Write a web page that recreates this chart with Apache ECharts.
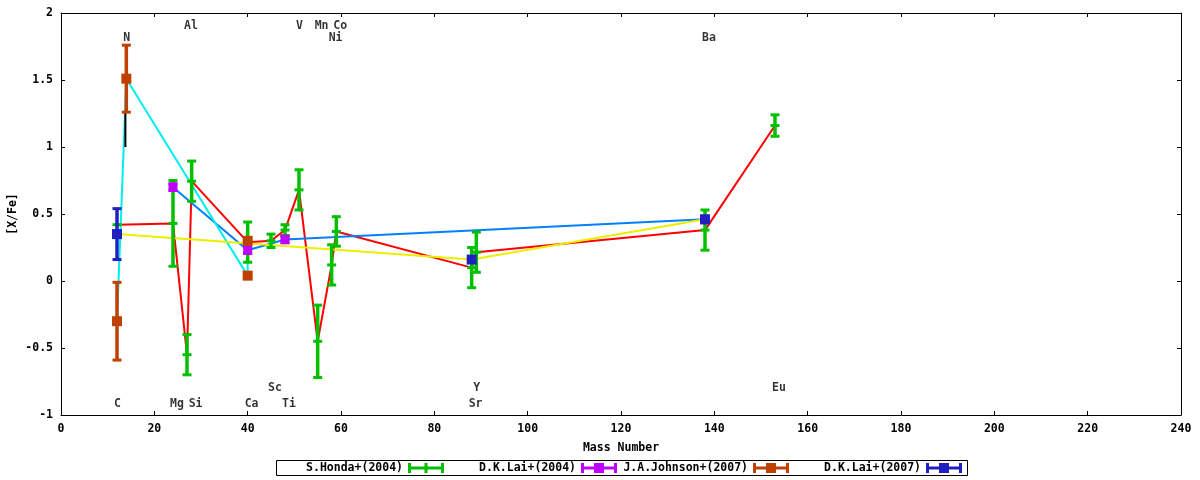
<!DOCTYPE html>
<html>
<head>
<meta charset="utf-8">
<script src="https://cdn.jsdelivr.net/npm/echarts@6/dist/echarts.min.js"></script>
<style>
  html, body { margin: 0; padding: 0; background: #fff; }
  #chart { width: 1200px; height: 480px; }
</style>
</head>
<body>
<div id="chart"></div>
<script>
// S.Honda+(2004)
var hondaMass = [12, 24, 27, 28, 40, 45, 48, 51, 55, 58, 59, 88, 89, 138, 153];
var hondaVal  = [0.42, 0.43, -0.55, 0.745, 0.29, 0.30, 0.38, 0.68, -0.45, 0.12, 0.37, 0.10, 0.215, 0.38, 1.16];
var hondaErr  = [0, 0.32, 0.15, 0.15, 0.15, 0.05, 0.04, 0.15, 0.27, 0.15, 0.11, 0.15, 0.15, 0.15, 0.08];

// D.K.Lai+(2004)
var lai04Mass = [24, 40, 48, 138];
var lai04Val  = [0.70, 0.23, 0.31, 0.46];
var lai04Err  = [0.025, 0.025, 0.025, 0.025];

// J.A.Johnson+(2007)
var johnMass = [12, 14, 40, 40];
var johnVal  = [-0.30, 1.51, 0.04, 0.30];
var johnErr  = [0.29, 0.25, 0, 0];

// D.K.Lai+(2007)
var lai07Mass = [12, 88, 138];
var lai07Val  = [0.35, 0.16, 0.46];
var lai07Err  = [0.19, 0, 0];

// short black limit mark near N
var limitMass = [13.8, 13.8];
var limitVal  = [1.26, 1.0];

// element labels
var elemNames  = ['Al', 'V', 'Mn', 'Co', 'N', 'Ni', 'Ba', 'Sc', 'Y', 'Eu', 'C', 'Mg', 'Si', 'Ca', 'Ti', 'Sr'];
var elemMass   = [27, 51, 55, 59, 14, 58, 138, 45, 89, 153, 12, 24, 28, 40, 48, 88];
var elemLabelY = [1.9, 1.9, 1.9, 1.9, 1.81, 1.81, 1.81, -0.8, -0.8, -0.8, -0.92, -0.92, -0.92, -0.92, -0.92, -0.92];

var legendNames = ['S.Honda+(2004)', 'D.K.Lai+(2004)', 'J.A.Johnson+(2007)', 'D.K.Lai+(2007)'];

var FONT = 'DejaVu Sans Mono';
var FS = 11.5;

function zip(a, b, c) {
  return a.map(function (v, i) { return c ? [v, b[i], c[i]] : [v, b[i]]; });
}

// errorbar drawn the gnuplot way: bar, two caps, centre mark
function errorBar(color, centre) {
  return function (params, api) {
    var x = api.value(0), y = api.value(1), e = api.value(2);
    var c = api.coord([x, y]);
    var kids = [];
    if (e > 0) {
      var hi = api.coord([x, y + e]), lo = api.coord([x, y - e]);
      kids.push({ type: 'rect', shape: { x: c[0] - 1.75, y: hi[1], width: 3.5, height: lo[1] - hi[1] }, style: { fill: color } });
      kids.push({ type: 'rect', shape: { x: c[0] - 4.5, y: hi[1] - 1.5, width: 9, height: 3 }, style: { fill: color } });
      kids.push({ type: 'rect', shape: { x: c[0] - 4.5, y: lo[1] - 1.5, width: 9, height: 3 }, style: { fill: color } });
    }
    if (centre === 'tick') {
      kids.push({ type: 'rect', shape: { x: c[0] - 4.5, y: c[1] - 1.5, width: 9, height: 3 }, style: { fill: color } });
    } else {
      var s = centre === 'small' ? 9 : 10;
      kids.push({ type: 'rect', shape: { x: c[0] - s / 2, y: c[1] - s / 2, width: s, height: s }, style: { fill: color } });
    }
    return { type: 'group', children: kids };
  };
}

var iconTick = 'path://M0,0H3V10H0Z M3,3.5H33V6.5H3Z M33,0H36V10H33Z M16.5,0H19.5V10H16.5Z';
var iconBox = 'path://M0,0H3V10H0Z M3,3.5H33V6.5H3Z M33,0H36V10H33Z M13,0H23V10H13Z';

function lineSeries(mass, val, color) {
  return {
    type: 'line', data: zip(mass, val), showSymbol: false, silent: true, z: 2,
    lineStyle: { color: color, width: 2 }, itemStyle: { color: color }
  };
}

function barSeries(name, mass, val, err, color, centre) {
  return {
    type: 'custom', name: name, data: zip(mass, val, err), z: 3,
    encode: { x: 0, y: 1 }, itemStyle: { color: color },
    renderItem: errorBar(color, centre)
  };
}

var axisText = { color: '#000', fontFamily: FONT, fontSize: FS, fontWeight: 'bold' };

// one legend per entry so every text ends flush against its sample, like gnuplot's key
var legendRight = [756, 583, 411, 238];
var legends = legendNames.map(function (n, i) {
  return {
    data: [{ name: n, icon: i === 0 ? iconTick : iconBox }],
    right: legendRight[i], top: 462, align: 'right', selectedMode: false,
    itemWidth: 36, itemHeight: 10, padding: 0,
    textStyle: axisText
  };
});

var chart = echarts.init(document.getElementById('chart'));
chart.setOption({
  animation: false,
  backgroundColor: '#fff',
  grid: { left: 61, right: 19, top: 13, bottom: 65, outerBoundsMode: 'none' },
  xAxis: [{
    type: 'value', min: 0, max: 240, interval: 20,
    name: 'Mass Number', nameLocation: 'middle', nameGap: 27, nameTextStyle: axisText,
    axisLine: { show: true, onZero: false, lineStyle: { color: '#000' } },
    axisTick: { inside: true, length: 4, lineStyle: { color: '#000' } },
    axisLabel: Object.assign({ margin: 8 }, axisText),
    splitLine: { show: false }
  }, {
    type: 'value', min: 0, max: 240, interval: 20, position: 'top',
    axisLine: { show: true, onZero: false, lineStyle: { color: '#000' } },
    axisTick: { inside: true, length: 4, lineStyle: { color: '#000' } },
    axisLabel: { show: false }, splitLine: { show: false }
  }],
  yAxis: [{
    type: 'value', min: -1, max: 2, interval: 0.5,
    name: '[X/Fe]', nameLocation: 'middle', nameGap: 42, nameRotate: 90, nameTextStyle: axisText,
    nameMoveOverlap: false,
    axisLine: { show: true, onZero: false, lineStyle: { color: '#000' } },
    axisTick: { inside: true, length: 4, lineStyle: { color: '#000' } },
    axisLabel: Object.assign({ margin: 8 }, axisText),
    splitLine: { show: false }
  }, {
    type: 'value', min: -1, max: 2, interval: 0.5, position: 'right',
    axisLine: { show: true, onZero: false, lineStyle: { color: '#000' } },
    axisTick: { inside: true, length: 4, lineStyle: { color: '#000' } },
    axisLabel: { show: false }, splitLine: { show: false }
  }],
  legend: legends,
  graphic: [{
    type: 'rect', shape: { x: 276.5, y: 460.5, width: 691, height: 15 },
    style: { fill: 'none', stroke: '#000', lineWidth: 1 }, silent: true
  }],
  series: [
    lineSeries(hondaMass, hondaVal, '#ff0000'),
    lineSeries(lai04Mass, lai04Val, '#0080ff'),
    lineSeries(johnMass, johnVal, '#00eeee'),
    lineSeries(lai07Mass, lai07Val, '#eeee00'),
    {
      type: 'line', data: zip(limitMass, limitVal), showSymbol: false, silent: true, z: 2,
      lineStyle: { color: '#000', width: 2 }
    },
    barSeries(legendNames[0], hondaMass, hondaVal, hondaErr, '#00c000', 'tick'),
    barSeries(legendNames[1], lai04Mass, lai04Val, lai04Err, '#c000ff', 'small'),
    barSeries(legendNames[2], johnMass, johnVal, johnErr, '#c04000', 'box'),
    barSeries(legendNames[3], lai07Mass, lai07Val, lai07Err, '#2020c0', 'box'),
    {
      type: 'scatter', silent: true, symbolSize: 0, z: 4,
      data: elemNames.map(function (n, i) { return { name: n, value: [elemMass[i], elemLabelY[i]] }; }),
      label: {
        show: true, position: [-3, 0], align: 'left', verticalAlign: 'middle',
        formatter: function (p) { return p.name; },
        color: '#000', fontFamily: FONT, fontSize: FS, fontWeight: 'bold'
      }
    }
  ]
});
</script>
</body>
</html>
